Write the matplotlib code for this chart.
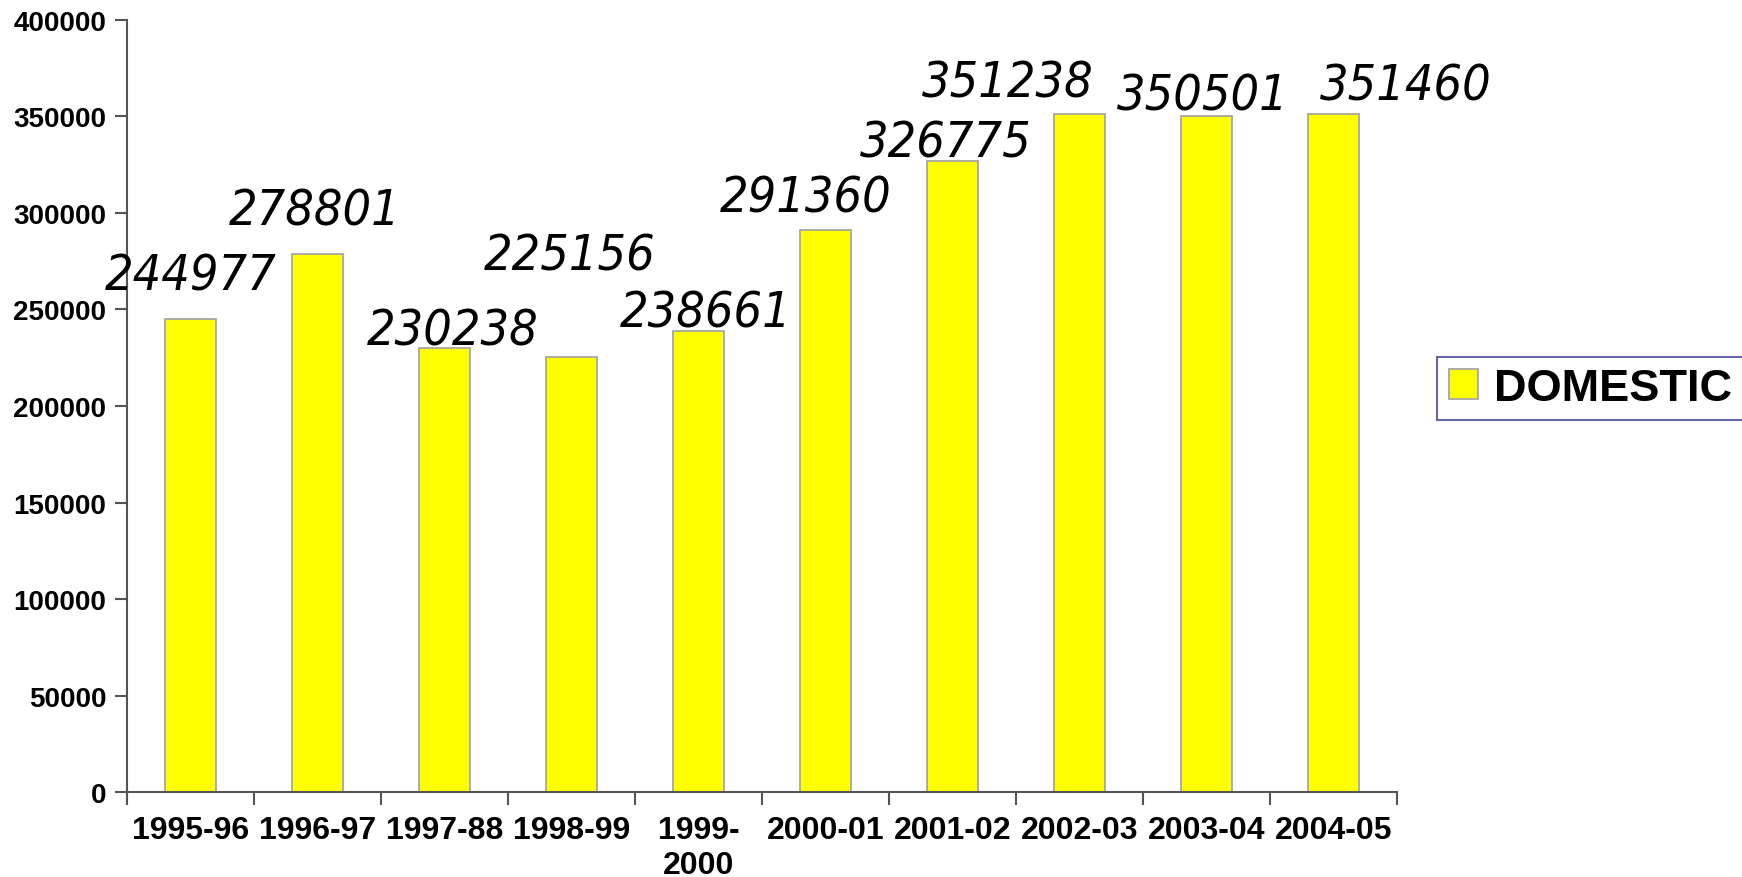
import matplotlib
matplotlib.use("Agg")
import matplotlib.pyplot as plt
from matplotlib.ticker import FixedLocator

categories = ["1995-96", "1996-97", "1997-88", "1998-99", "1999-\n2000",
              "2000-01", "2001-02", "2002-03", "2003-04", "2004-05"]
domestic = [244977, 278801, 230238, 225156, 238661,
            291360, 326775, 351238, 350501, 351460]
yticks = [0, 50000, 100000, 150000, 200000, 250000, 300000, 350000, 400000]
# label offsets (pixels) relative to bar top
label_dx = [0, -3, 8, -2, 7, -20, -7, -72, -4, 72]
label_dy = [44, 43, 17, 102, 19, 32, 19, 32, 20, 28]

fig = plt.figure(figsize=(17.42, 8.78), dpi=100)
ax = fig.add_axes([0.0729, 0.0968, 0.7291, 0.8793])

x = list(range(len(categories)))
bars = ax.bar(x, domestic, width=0.4, color="#ffff00", edgecolor="#a6a6a6",
              linewidth=1.3, label="DOMESTIC", zorder=2)

for xi, v, dx, dy in zip(x, domestic, label_dx, label_dy):
    ax.annotate(str(v), xy=(xi, v), xytext=(dx, dy), textcoords="offset pixels",
                ha="center", va="center", fontsize=36, style="italic",
                fontstretch="condensed", family="DejaVu Sans", color="black",
                zorder=3)

ax.set_xlim(-0.5, len(categories) - 0.5)
ax.set_ylim(0, 400000)
ax.set_yticks(yticks)
ax.set_yticklabels([str(t) for t in yticks], fontsize=20, fontweight="bold",
                   family="Liberation Sans")
ax.set_xticks(x)
ax.set_xticklabels(categories, fontsize=23, fontweight="bold",
                   family="Liberation Sans", linespacing=1.2)
ax.xaxis.set_minor_locator(FixedLocator([i - 0.5 for i in range(len(categories) + 1)]))
ax.tick_params(axis="x", which="major", length=0, pad=16.5)
ax.tick_params(axis="x", which="minor", length=9, width=1.5, color="#555555", direction="out")
ax.tick_params(axis="y", which="major", length=9, width=1.5, color="#555555", pad=6)

for s in ["top", "right"]:
    ax.spines[s].set_visible(False)
for s in ["left", "bottom"]:
    ax.spines[s].set_color("#555555")
    ax.spines[s].set_linewidth(1.5)

leg = fig.legend(handles=[bars], labels=["DOMESTIC"], loc="center",
                 bbox_to_anchor=(0.9128, 0.5565),
                 prop={"family": "Liberation Sans", "weight": "bold", "size": 32.5},
                 frameon=True, fancybox=False, handlelength=0.65, handleheight=0.65,
                 handletextpad=0.35, borderpad=0.25, borderaxespad=0)
leg.get_frame().set_edgecolor("#40408f")
leg.get_frame().set_linewidth(1.5)

fig.savefig("out.png", dpi=100)
